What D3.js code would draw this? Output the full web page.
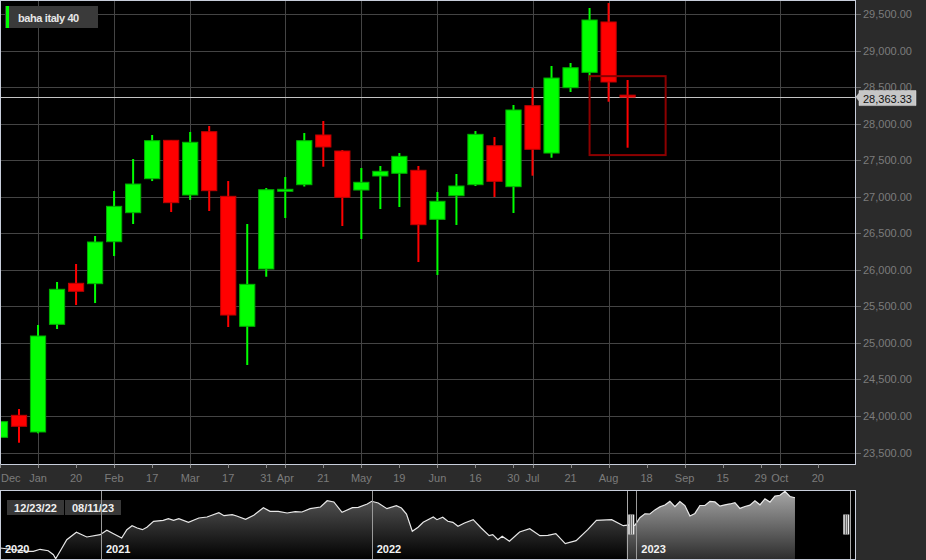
<!DOCTYPE html>
<html><head><meta charset="utf-8">
<script src="https://cdn.jsdelivr.net/npm/d3@7/dist/d3.min.js"></script>
<style>
html,body{margin:0;padding:0;background:#2b2b2b;overflow:hidden;}
svg{display:block;font-family:"Liberation Sans",Arial,sans-serif;}
</style></head><body>
<svg id="c" width="926" height="560"></svg>
<script>
const seriesName = "baha italy 40";
const dates = ["2022-12-23","2022-12-30","2023-01-06","2023-01-13","2023-01-20","2023-01-27","2023-02-03","2023-02-10","2023-02-17","2023-02-24","2023-03-03","2023-03-10","2023-03-17","2023-03-24","2023-03-31","2023-04-07","2023-04-14","2023-04-21","2023-04-28","2023-05-05","2023-05-12","2023-05-19","2023-05-26","2023-06-02","2023-06-09","2023-06-16","2023-06-23","2023-06-30","2023-07-07","2023-07-14","2023-07-21","2023-07-28","2023-08-04","2023-08-11"];
const open  = [23709,24010,23782,25255,25816,25811,26385,26782,27247,27772,27024,27890,27006,25228,26012,27075,27165,27845,27626,27092,27284,27321,27362,26691,27014,27165,27698,27138,28246,27598,28492,28702,29391,28390];
const high  = [24197,24096,25246,25834,26080,26463,27079,27516,27845,27776,27886,27968,27215,26627,27120,27270,27872,28036,27640,27393,27421,27598,27421,27065,27311,27899,27817,28255,28488,28789,28830,29582,29650,28597];
const low   = [23340,23635,23764,25191,25519,25546,26189,26627,27215,26791,26956,26805,25218,24698,25906,26709,27140,27411,26600,26422,26832,26860,26107,25930,26614,27147,26997,26778,27288,27534,28433,28588,28300,27671];
const close = [23923,23860,25095,25734,25707,26381,26869,27174,27767,26919,27745,27083,25382,25802,27096,27102,27767,27681,26992,27198,27348,27553,26618,26938,27147,27854,27211,28187,27649,28624,28765,29418,28570,28363.33];
const lastPrice = 28363.33;
const highlightTop = 28650, highlightBottom = 27570;
const yTicks = [23500,24000,24500,25000,25500,26000,26500,27000,27500,28000,28500,29000,29500];
const xTickDates = ["2022-12-23","2023-01-06","2023-01-20","2023-02-03","2023-02-17","2023-03-03","2023-03-17","2023-03-31","2023-04-07","2023-04-21","2023-05-05","2023-05-19","2023-06-02","2023-06-16","2023-06-30","2023-07-07","2023-07-21","2023-08-04","2023-08-18","2023-09-01","2023-09-15","2023-09-29","2023-10-06","2023-10-20"];
const xTickLabels = ["Dec","Jan","20","Feb","17","Mar","17","31","Apr","21","May","19","Jun","16","30","Jul","21","Aug","18","Sep","15","29","Oct","20"];
const navDates = ["2020-08-18","2020-09-25","2020-10-02","2020-10-11","2020-10-22","2020-10-29","2020-11-01","2020-11-07","2020-11-16","2020-11-29","2020-12-13","2020-12-31","2021-01-09","2021-01-18","2021-01-29","2021-02-05","2021-02-12","2021-02-19","2021-02-26","2021-03-04","2021-03-13","2021-03-26","2021-04-02","2021-04-09","2021-04-16","2021-04-29","2021-05-13","2021-05-24","2021-06-09","2021-06-16","2021-06-27","2021-07-03","2021-07-15","2021-07-26","2021-08-08","2021-08-17","2021-08-28","2021-09-09","2021-09-20","2021-09-29","2021-10-10","2021-10-24","2021-11-02","2021-11-11","2021-11-22","2021-12-06","2021-12-14","2021-12-26","2022-01-01","2022-01-10","2022-01-22","2022-02-04","2022-02-11","2022-02-18","2022-02-26","2022-03-06","2022-03-13","2022-03-27","2022-04-01","2022-04-09","2022-04-16","2022-04-23","2022-04-30","2022-05-09","2022-05-21","2022-06-01","2022-06-12","2022-06-17","2022-06-24","2022-06-30","2022-07-10","2022-07-24","2022-08-07","2022-08-21","2022-09-01","2022-09-12","2022-09-25","2022-10-10","2022-10-26","2022-11-07","2022-11-28","2022-12-14"];
const navValues = [20150,19610,19610,19937,19708,19054,18400,19610,21507,22716,21948,22324,23043,22488,21785,23142,23796,23420,23142,23534,24515,24678,24940,24678,24940,24351,25055,25218,25921,25431,25594,25382,24842,25496,26739,26150,26150,25872,26085,26036,26575,26853,27883,27671,25986,26739,26804,27344,27785,27507,26575,27066,26690,25709,22880,23534,24351,25218,24777,25169,24515,24351,23697,24237,24777,23420,22161,22324,21507,22062,21245,22766,23305,22161,22226,22488,20853,21343,23142,24678,24777,23796];
const yearLabels = ["2020","2021","2022","2023"];
const yearDates = ["2020-01-01","2021-01-01","2022-01-01","2023-01-01"];

const P = d3.utcParse("%Y-%m-%d");
const fmtNum = d3.format(",.2f");
const fmtDate = d3.utcFormat("%m/%d/%y");
const svg = d3.select("#c");
const W = 855, H = 464;

const candles = dates.map((d,i)=>({date:P(d),o:open[i],h:high[i],l:low[i],c:close[i]}));
const endDate = new Date(P("2023-11-02").getTime() + 0.7*864e5);
const x = d3.scaleUtc().domain([P(dates[0]), endDate]).range([0, W]);
const y = d3.scaleLinear().domain([23344, 29678]).range([H, 1]);

// plot background
svg.append("rect").attr("x",0).attr("y",0).attr("width",W).attr("height",H).attr("fill","#000");
const defs = svg.append("defs");
defs.append("clipPath").attr("id","plotClip").append("rect").attr("x",0).attr("y",0).attr("width",W).attr("height",H);

// grid
const grid = svg.append("g");
grid.selectAll("line.h").data(yTicks).join("line")
  .attr("x1",0).attr("x2",W).attr("y1",d=>Math.round(y(d))+0.5).attr("y2",d=>Math.round(y(d))+0.5)
  .attr("stroke","#444").attr("stroke-width",1);
const xt = xTickDates.map((d,i)=>({date:P(d),label:xTickLabels[i]}));
grid.selectAll("line.v").data(xt.filter(t=>isNaN(+t.label))).join("line")
  .attr("x1",d=>Math.round(x(d.date))+0.5).attr("x2",d=>Math.round(x(d.date))+0.5)
  .attr("y1",0).attr("y2",H).attr("stroke","#444").attr("stroke-width",1);

// crosshair
svg.append("line").attr("x1",0).attr("x2",W).attr("y1",Math.round(y(lastPrice))+0.5).attr("y2",Math.round(y(lastPrice))+0.5)
  .attr("stroke","#c4c4c4").attr("stroke-width",1);

// candles
const step = x(P(dates[1])) - x(P(dates[0]));
const bw = step*0.8;
const cg = svg.append("g").attr("clip-path","url(#plotClip)");
const up = d=>d.c>=d.o;
cg.selectAll("line.w").data(candles).join("line")
  .attr("x1",d=>x(d.date)).attr("x2",d=>x(d.date)).attr("y1",d=>y(d.h)).attr("y2",d=>y(d.l))
  .attr("stroke",d=>up(d)?"#00ff00":"#ff0000").attr("stroke-width",2);
cg.selectAll("rect.b").data(candles).join("rect")
  .attr("x",d=>x(d.date)-bw/2).attr("width",bw)
  .attr("y",d=>y(Math.max(d.o,d.c))).attr("height",d=>Math.max(1.5,Math.abs(y(d.o)-y(d.c))))
  .attr("fill",d=>up(d)?"#00ff00":"#ff0000")
  .attr("stroke",d=>up(d)?"#00b000":"#c00000").attr("stroke-width",1);

// highlight box around last candle
const last = candles[candles.length-1];
svg.append("rect").attr("x",x(last.date)-2*step).attr("width",4*step)
  .attr("y",y(highlightTop)).attr("height",y(highlightBottom)-y(highlightTop))
  .attr("fill","none").attr("stroke","#8c0000").attr("stroke-width",2);

// plot border
svg.append("rect").attr("x",0.5).attr("y",0.5).attr("width",W).attr("height",H)
  .attr("fill","none").attr("stroke","#c8cedb").attr("stroke-width",1);

// right axis
const ra = svg.append("g");
ra.selectAll("line").data(yTicks).join("line")
  .attr("x1",W+1).attr("x2",W+6).attr("y1",d=>Math.round(y(d))+0.5).attr("y2",d=>Math.round(y(d))+0.5)
  .attr("stroke","#6a6a6a");
ra.selectAll("text").data(yTicks).join("text")
  .attr("x",W+8).attr("y",d=>y(d)+4).attr("font-size",11).attr("fill","#7c7c7c").text(d=>fmtNum(d));

// crosshair label
const cy = y(lastPrice);
svg.append("path").attr("d",`M${W+1},${cy} L${W+4},${cy-4} L${W+4},${cy-6.5} L${W+61},${cy-6.5} L${W+61},${cy+8.5} L${W+4},${cy+8.5} L${W+4},${cy+4} Z`)
  .attr("fill","#c6c6c6").attr("stroke","#e0e0e0").attr("stroke-width",0.5);
svg.append("text").attr("x",W+8).attr("y",cy+5.5).attr("font-size",11).attr("fill","#111").text(fmtNum(lastPrice));

// bottom axis
const ba = svg.append("g");
ba.selectAll("line").data(xt).join("line")
  .attr("x1",d=>Math.round(x(d.date))+0.5).attr("x2",d=>Math.round(x(d.date))+0.5)
  .attr("y1",H+0.5).attr("y2",H+4).attr("stroke","#8a8a8a");
ba.selectAll("text").data(xt).join("text")
  .attr("y",482).attr("font-size",11).attr("fill","#7c7c7c")
  .each(function(d){
    const t = d3.select(this).text(d.label);
    const w = this.getComputedTextLength();
    let cx = x(d.date);
    if (cx - w/2 < 1) { t.attr("x",1).attr("text-anchor","start"); }
    else t.attr("x",cx).attr("text-anchor","middle");
  });

// legend
svg.append("rect").attr("x",5).attr("y",6).attr("width",93).attr("height",22).attr("fill","#3a3a3a");
svg.append("rect").attr("x",6).attr("y",6).attr("width",3).attr("height",22).attr("fill","#00ff00");
svg.append("text").attr("x",18).attr("y",21.5).attr("font-size",11).attr("font-weight","bold")
  .attr("letter-spacing","-0.4").attr("fill","#e6e6e6").text(seriesName);

// navigator
const NT = 490, NB = 560;
const navAll = navDates.map((d,i)=>({date:P(d),v:navValues[i]}))
  .concat(candles.map(d=>({date:d.date,v:d.c})));
const nx = d3.scaleUtc().domain([P("2020-08-18"),P("2022-01-01"),P("2023-01-01"),P("2023-11-03")]).range([0,371.7,636.3,W]);
const ny = d3.scaleLinear().domain(d3.extent(navAll,d=>d.v)).range([558.7,491.3]);
const selL = nx(x.domain()[0]) - 3, selR = nx(x.domain()[1]) - 4.5;

svg.append("rect").attr("x",0).attr("y",NT).attr("width",W).attr("height",NB-NT).attr("fill","#000");
const g1 = defs.append("linearGradient").attr("id","navDark").attr("gradientUnits","userSpaceOnUse")
  .attr("x1",0).attr("x2",0).attr("y1",NT).attr("y2",NB);
g1.append("stop").attr("offset",0).attr("stop-color","#5e5e5e");
g1.append("stop").attr("offset",1).attr("stop-color","#000");
const g2 = defs.append("linearGradient").attr("id","navLight").attr("gradientUnits","userSpaceOnUse")
  .attr("x1",0).attr("x2",0).attr("y1",NT).attr("y2",NB);
g2.append("stop").attr("offset",0).attr("stop-color","#a8a8a8");
g2.append("stop").attr("offset",1).attr("stop-color","#2c2c2c");
defs.append("clipPath").attr("id","selClip").append("rect").attr("x",selL).attr("y",NT).attr("width",selR-selL).attr("height",NB-NT);

const area = d3.area().x(d=>nx(d.date)).y0(NB).y1(d=>ny(d.v));
const line = d3.line().x(d=>nx(d.date)).y(d=>ny(d.v));
svg.append("path").datum(navAll).attr("d",area).attr("fill","url(#navDark)");
svg.append("path").datum(navAll).attr("d",area).attr("fill","url(#navLight)").attr("clip-path","url(#selClip)");
svg.append("path").datum(navAll).attr("d",line).attr("fill","none").attr("stroke","#e8e8e8").attr("stroke-width",1.2);

// date range boxes
const rangeTexts = [fmtDate(candles[0].date), fmtDate(last.date)];
const boxes = svg.append("g");
boxes.selectAll("rect").data(rangeTexts).join("rect")
  .attr("x",(d,i)=>i?65:7).attr("y",500).attr("width",(d,i)=>i?56:57).attr("height",15).attr("fill","#383838");
boxes.selectAll("text").data(rangeTexts).join("text")
  .attr("x",(d,i)=>i?93:35.5).attr("y",511.5).attr("text-anchor","middle").attr("font-size",11).attr("font-weight","bold")
  .attr("fill","#f0f0f0").text(d=>d);

// year lines and labels
const yrs = yearDates.map((d,i)=>({date:P(d),label:yearLabels[i]}));
svg.selectAll("line.yr").data(yrs.filter(d=>nx(d.date)>0)).join("line")
  .attr("x1",d=>Math.round(nx(d.date))+0.5).attr("x2",d=>Math.round(nx(d.date))+0.5)
  .attr("y1",NT).attr("y2",NB).attr("stroke","#9a9a9a").attr("stroke-width",1);
svg.selectAll("text.yr").data(yrs).join("text")
  .attr("x",d=>Math.max(5,nx(d.date)+5)).attr("y",553).attr("font-size",11).attr("font-weight","bold")
  .attr("fill","#f2f2f2").text(d=>d.label);

// selection edges and handles
[selL, selR].forEach((sx,i)=>{
  svg.append("line").attr("x1",Math.round(sx)+0.5).attr("x2",Math.round(sx)+0.5).attr("y1",NT).attr("y2",NB)
    .attr("stroke","#a8a8a8").attr("stroke-width",1);
  const hx = i? sx-7 : sx+1.5;
  svg.append("rect").attr("x",hx).attr("y",514.5).attr("width",6).attr("height",20).attr("fill","#ececec");
  [2,4].forEach(o=>svg.append("line").attr("x1",hx+o).attr("x2",hx+o).attr("y1",514.5).attr("y2",534.5)
    .attr("stroke","#333").attr("stroke-width",0.9));
});

// navigator border
svg.append("rect").attr("x",0.5).attr("y",NT+0.5).attr("width",W).attr("height",NB-NT-1)
  .attr("fill","none").attr("stroke","#c8cedb").attr("stroke-width",1);
</script>
</body></html>
